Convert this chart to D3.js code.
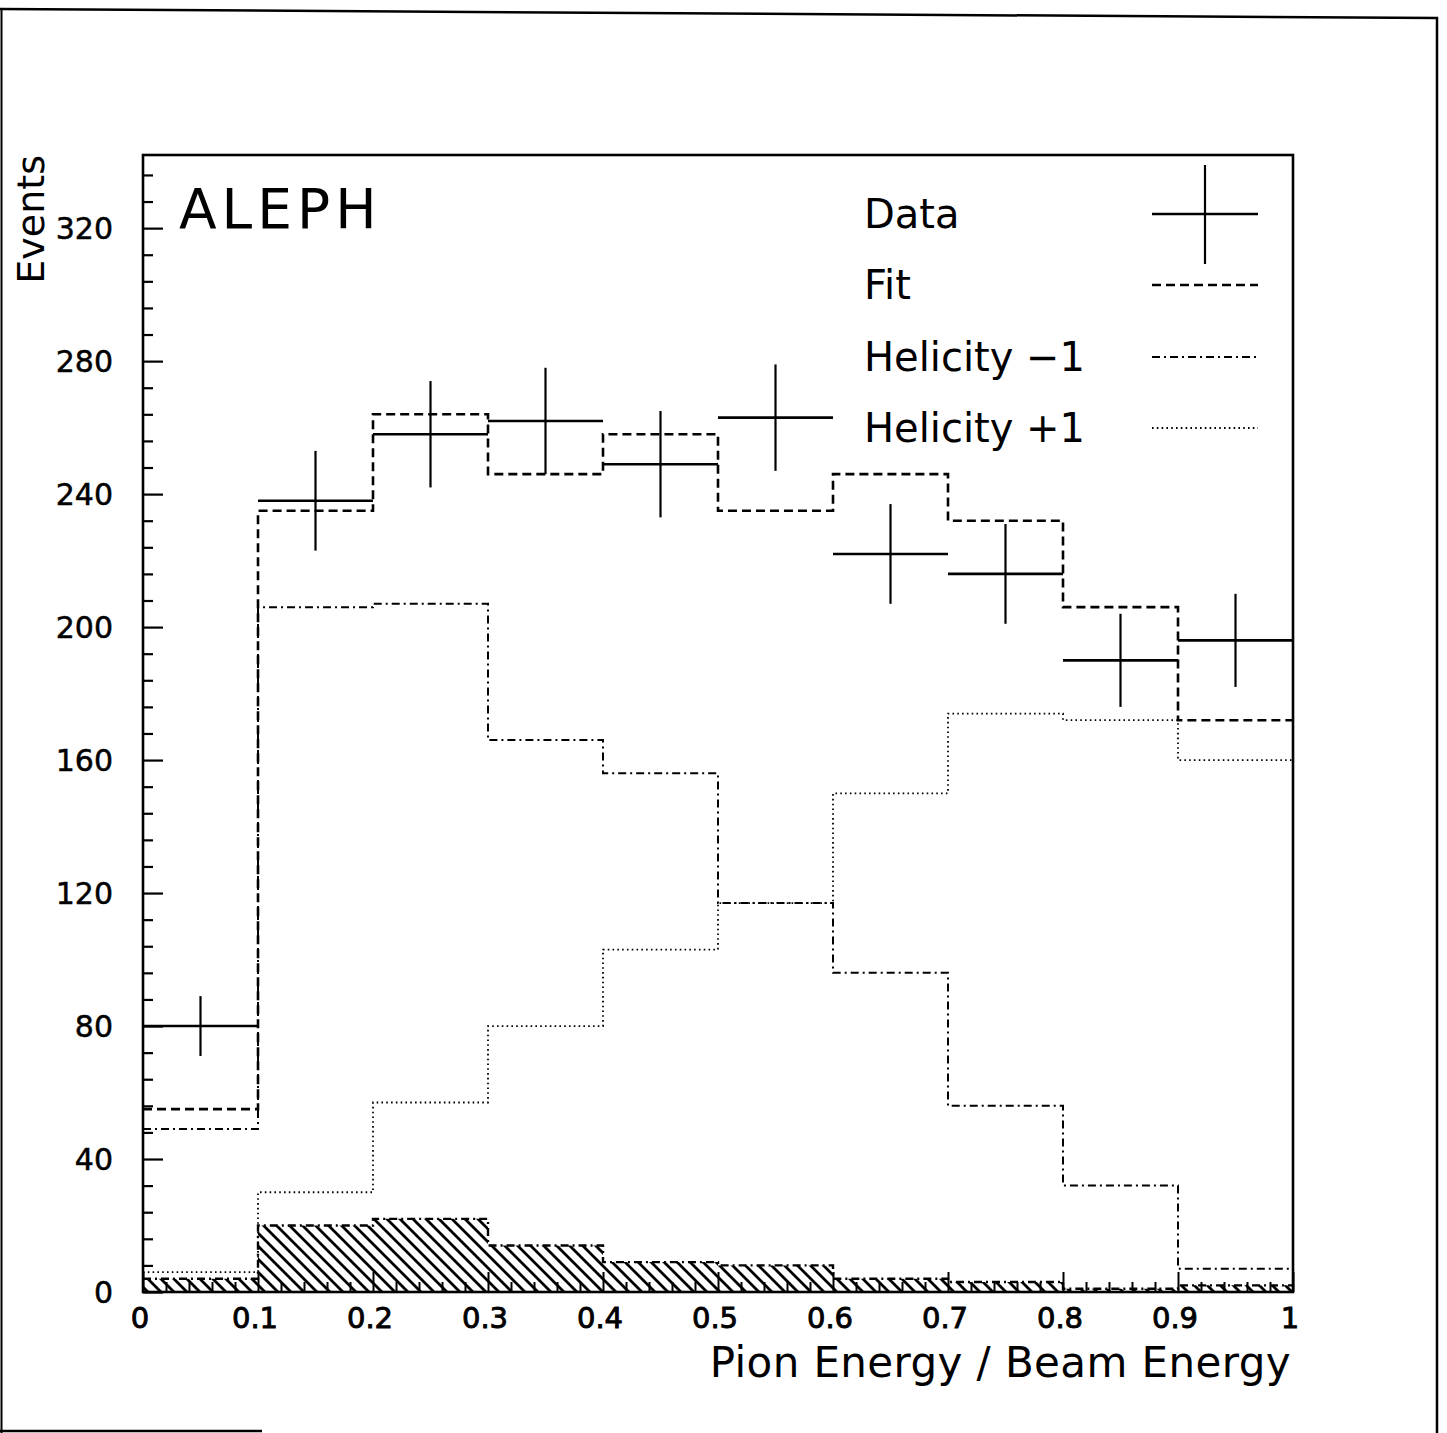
<!DOCTYPE html>
<html>
<head>
<meta charset="utf-8">
<style>
    body { margin: 0; background: white; }
    svg text { font-family: "DejaVu Sans", sans-serif; fill: black; }
</style>
</head>
<body>
<div class="board"></div>
<script src="https://d3js.org/d3.v7.min.js"></script>
<script>
    // bins of Pion Energy / Beam Energy
    const binEdges = [0, 0.1, 0.2, 0.3, 0.4, 0.5, 0.6, 0.7, 0.8, 0.9, 1.0]
    const binCentres = [0.05, 0.15, 0.25, 0.35, 0.45, 0.55, 0.65, 0.75, 0.85, 0.95]

    const dataCounts = [80, 238, 258, 262, 249, 263, 222, 216, 190, 196]
    const dataErrors = [9, 15, 16, 16, 16, 16, 15, 15, 14, 14]
    const fitCounts = [55, 235, 264, 246, 258, 235, 246, 232, 206, 172]
    const helicityMinus = [49, 206, 207, 166, 156, 117, 96, 56, 32, 7]
    const helicityPlus = [6, 30, 57, 80, 103, 117, 150, 174, 172, 160]
    const background = [4, 20, 22, 14, 9, 8, 4, 3, 1, 2]

    const yMajorTicks = [0, 40, 80, 120, 160, 200, 240, 280, 320]
    const xMajorTicks = [0, 0.1, 0.2, 0.3, 0.4, 0.5, 0.6, 0.7, 0.8, 0.9, 1]
    const legendLabels = ["Data", "Fit", "Helicity \u22121", "Helicity +1"]

    const W = 1447, H = 1433
    const plot = { left: 143, right: 1293, top: 155, bottom: 1292 }

    const DASHED = "9,5"
    const DASHDOT = "8,4,2,4"
    const DOTTED = "1.6,3.2"

    const svg = d3.select(".board").append("svg")
        .attr("width", W)
        .attr("height", H)

    const x = d3.scaleLinear().domain([0, 1]).range([plot.left, plot.right])
    const y = d3.scaleLinear().domain([0, 342]).range([plot.bottom, plot.top])

    // hatch pattern for the background histogram
    const defs = svg.append("defs")
    const pat = defs.append("pattern")
        .attr("id", "hatch")
        .attr("patternUnits", "userSpaceOnUse")
        .attr("width", 13).attr("height", 13)
    pat.append("path")
        .attr("d", "M-3,-3 L16,16 M-3,10 L3,16 M10,-3 L16,3")
        .attr("stroke", "black").attr("stroke-width", 2.8)

    // outer page frame
    const frame = svg.append("g").attr("stroke", "black").attr("fill", "none")
    frame.append("path").attr("d", "M0,9 L1437,18 L1437,1433").attr("stroke-width", 2.5)
    frame.append("line").attr("x1", 1.5).attr("y1", 9).attr("x2", 1.5).attr("y2", 1433).attr("stroke-width", 2)
    frame.append("line").attr("x1", 0).attr("y1", 1431).attr("x2", 262).attr("y2", 1431).attr("stroke-width", 2.5)

    function stepPoints(values) {
        let pts = []
        values.forEach((v, i) => {
            pts.push([binEdges[i], v])
            pts.push([binEdges[i + 1], v])
        })
        return pts
    }

    const line = d3.line().x(d => x(d[0])).y(d => y(d[1]))

    // background (hatched)
    let bgPts = stepPoints(background)
    svg.append("path")
        .attr("d", line([[0, 0]].concat(bgPts, [[1, 0]])) + "Z")
        .attr("fill", "url(#hatch)")
        .attr("stroke", "none")
    svg.append("path")
        .attr("d", line(bgPts))
        .attr("fill", "none").attr("stroke", "black")
        .attr("stroke-width", 2.4).attr("stroke-dasharray", DASHDOT)

    // helicity +1 (dotted)
    svg.append("path")
        .attr("d", line(stepPoints(helicityPlus)))
        .attr("fill", "none").attr("stroke", "black")
        .attr("stroke-width", 1.8).attr("stroke-dasharray", DOTTED)

    // helicity -1 (dash-dot)
    svg.append("path")
        .attr("d", line(stepPoints(helicityMinus)))
        .attr("fill", "none").attr("stroke", "black")
        .attr("stroke-width", 2).attr("stroke-dasharray", DASHDOT)

    // fit (dashed)
    svg.append("path")
        .attr("d", line(stepPoints(fitCounts)))
        .attr("fill", "none").attr("stroke", "black")
        .attr("stroke-width", 2.6).attr("stroke-dasharray", DASHED)

    // data points with error bars
    let pts = svg.append("g").attr("stroke", "black").attr("stroke-width", 2.6)
    pts.selectAll(".hbar")
        .data(dataCounts)
        .enter()
        .append("line")
        .attr("x1", (d, i) => x(binEdges[i]))
        .attr("x2", (d, i) => x(binEdges[i + 1]))
        .attr("y1", d => y(d))
        .attr("y2", d => y(d))
    pts.selectAll(".vbar")
        .data(dataCounts)
        .enter()
        .append("line")
        .attr("x1", (d, i) => x(binCentres[i]))
        .attr("x2", (d, i) => x(binCentres[i]))
        .attr("y1", (d, i) => y(d + dataErrors[i]))
        .attr("y2", (d, i) => y(d - dataErrors[i]))
        .attr("stroke-width", 2.2)

    // axes: ticks pointing inwards
    const yAxis = d3.axisRight(y)
        .tickValues(d3.range(0, 337, 8))
        .tickSize(10)
        .tickFormat("")
    svg.append("g")
        .attr("transform", "translate(" + plot.left + ",0)")
        .call(yAxis)
        .call(g => g.select(".domain").remove())
        .call(g => g.selectAll(".tick line")
            .attr("stroke-width", 2.2)
            .attr("x2", d => d % 40 == 0 ? 20 : 10))

    const xAxis = d3.axisTop(x)
        .tickValues(d3.range(0, 1.0001, 0.02))
        .tickSize(10)
        .tickFormat("")
    svg.append("g")
        .attr("transform", "translate(0," + plot.bottom + ")")
        .call(xAxis)
        .call(g => g.select(".domain").remove())
        .call(g => g.selectAll(".tick line")
            .attr("stroke-width", 2)
            .attr("y2", (d, i) => i % 5 == 0 ? -20 : -10))

    // tick labels
    svg.append("g").selectAll("text")
        .data(yMajorTicks)
        .enter()
        .append("text")
        .attr("x", 113)
        .attr("y", d => y(d) + 11)
        .attr("text-anchor", "end")
        .style("font-size", "30px")
        .style("stroke", "black")
        .style("stroke-width", "0.5px")
        .text(d => d)

    svg.append("g").selectAll("text")
        .data(xMajorTicks)
        .enter()
        .append("text")
        .attr("x", d => x(d) - 3)
        .attr("y", 1328)
        .attr("text-anchor", "middle")
        .style("font-size", "29px")
        .style("stroke", "black")
        .style("stroke-width", "0.9px")
        .text(d => d)

    // frame of the plot
    svg.append("rect")
        .attr("x", plot.left).attr("y", plot.top)
        .attr("width", plot.right - plot.left)
        .attr("height", plot.bottom - plot.top)
        .attr("fill", "none").attr("stroke", "black").attr("stroke-width", 2.6)

    // axis titles
    svg.append("text")
        .attr("x", 1291).attr("y", 1377)
        .attr("text-anchor", "end")
        .style("font-size", "42px")
        .style("letter-spacing", "0.4px")
        .text("Pion Energy / Beam Energy")

    svg.append("text")
        .attr("transform", "translate(44,155) rotate(-90)")
        .attr("text-anchor", "end")
        .style("font-size", "38px")
        .text("Events")

    svg.append("text")
        .attr("x", 179).attr("y", 228)
        .style("font-size", "55px")
        .style("letter-spacing", "5px")
        .text("ALEPH")

    // legend
    const legendY = [214, 285, 357, 428]
    let legend = svg.append("g")
    legend.selectAll("text")
        .data(legendLabels)
        .enter()
        .append("text")
        .attr("x", 864)
        .attr("y", (d, i) => legendY[i] + 14)
        .style("font-size", "40px")
        .text(d => d)

    legend.append("line")
        .attr("x1", 1152).attr("x2", 1258)
        .attr("y1", legendY[0]).attr("y2", legendY[0])
        .attr("stroke", "black").attr("stroke-width", 2.6)
    legend.append("line")
        .attr("x1", 1205).attr("x2", 1205)
        .attr("y1", 165).attr("y2", 264)
        .attr("stroke", "black").attr("stroke-width", 2.2)
    const legendDash = [null, DASHED, DASHDOT, DOTTED]
    const legendWidth = [null, 2.6, 2, 1.8]
    for (let i = 1; i < 4; i++) {
        legend.append("line")
            .attr("x1", 1152).attr("x2", 1258)
            .attr("y1", legendY[i]).attr("y2", legendY[i])
            .attr("stroke", "black")
            .attr("stroke-width", legendWidth[i])
            .attr("stroke-dasharray", legendDash[i])
    }
</script>
</body>
</html>
